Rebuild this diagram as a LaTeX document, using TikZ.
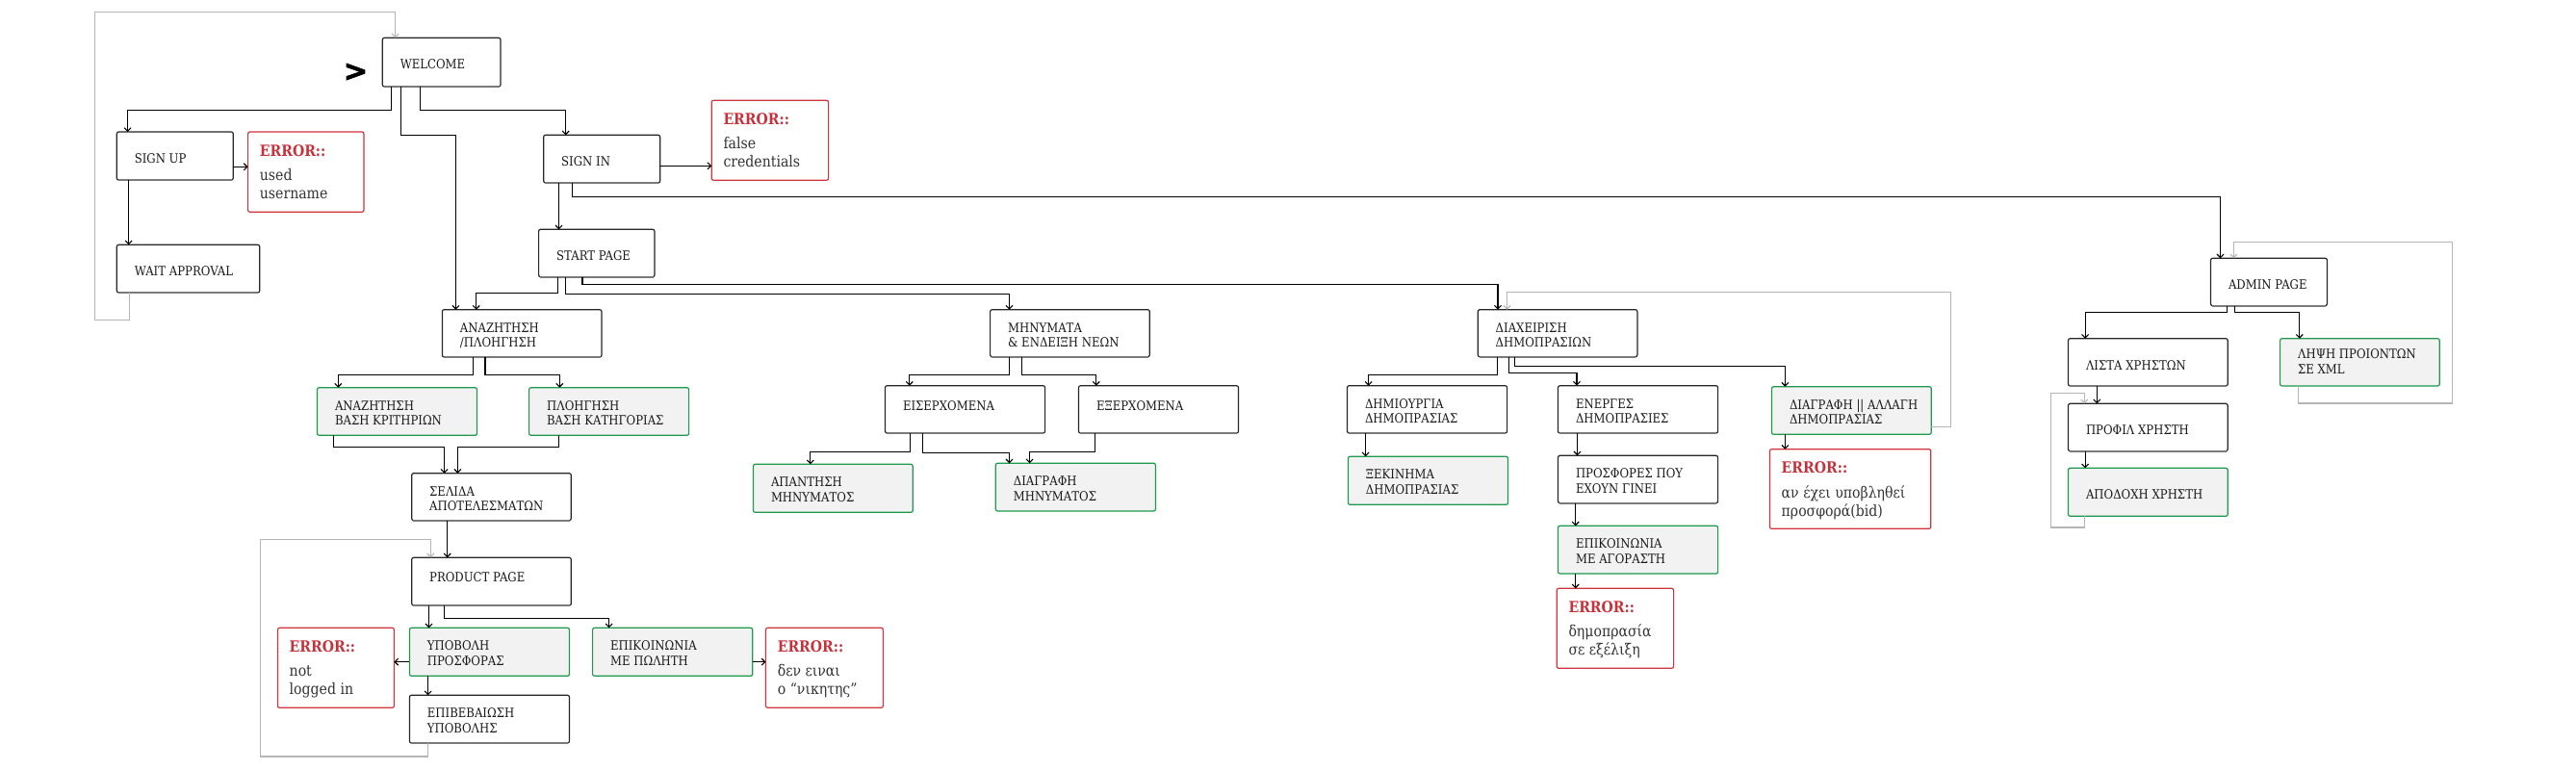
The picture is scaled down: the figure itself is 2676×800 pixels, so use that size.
\documentclass[tikz,border=0pt]{standalone}
\usepackage{fontspec}
\setmainfont{DejaVu Serif}[FakeStretch=0.88]
\setsansfont{DejaVu Sans}
\newfontfamily\chevfont{DejaVu Sans Bold}[FakeBold=2.5]
\usetikzlibrary{arrows.meta,calc}
\definecolor{bordk}{HTML}{262626}
\definecolor{botg}{HTML}{7A7A7A}
\definecolor{grn}{HTML}{1E9A4E}
\definecolor{grnfill}{HTML}{F2F2F2}
\definecolor{errred}{HTML}{D0343C}
\definecolor{errtxt}{HTML}{C8303A}
\definecolor{bodytxt}{HTML}{333333}
\definecolor{loopg}{HTML}{B5B5B5}
\tikzset{
 every node/.style={inner sep=0pt, outer sep=0pt},
 boxbase/.style={rectangle, rounded corners=2pt, line width=1.2pt},
 plainbox/.style={boxbase, draw=bordk, fill=white},
 greenbox/.style={boxbase, draw=grn, fill=grnfill},
 errbox/.style={boxbase, draw=errred, fill=white},
 btxt/.style={anchor=base west, font=\fontsize{13.3}{16}\selectfont, text=black!90},
 etitle/.style={anchor=base west, font=\bfseries\fontsize{16}{19}\selectfont, text=errtxt},
 ebody/.style={anchor=base west, font=\fontsize{16}{19}\selectfont, text=bodytxt},
 conn/.style={draw=black, line width=1.1pt, -{Straight Barb[length=3.5pt,width=7pt]}},
 loopc/.style={draw=loopg, line width=1.1pt, -{Straight Barb[length=3.5pt,width=7pt]}},
 botedge/.style={draw=botg, line width=2.4pt},
}
\newcommand\mkbx[6]{\node[#1, minimum width=#5pt, minimum height=#6pt, anchor=north west] (#2) at (#3,#4) {};}
\newcommand\onel[3]{\node[btxt] (#1-a) at ([shift={(18.5,#3)}]#1.north west) {#2};}
\newcommand\twol[3]{%
 \node[btxt] (#1-a) at ([shift={(18.5,23.5)}]#1.north west) {#2};
 \node[btxt] (#1-b) at ([shift={(18.5,39)}]#1.north west) {#3};}
\newcommand\errl[3]{%
 \node[etitle] (#1-h) at ([shift={(12.3,25)}]#1.north west) {ERROR::};
 \node[ebody] (#1-a) at ([shift={(12.3,50.3)}]#1.north west) {#2};
 \node[ebody] (#1-b) at ([shift={(12.3,69.6)}]#1.north west) {#3};}
\newcommand\vdn[3]{\path ([xshift=#2pt]#1.south west) coordinate (#1-#3-v); \draw[conn] (#1-#3-v) -- (#1-#3-v |- #3.north);}
\begin{document}
\begin{tikzpicture}[x=1pt,y=-1pt]
\fill[white] (0,0) rectangle (2676,800);
\useasboundingbox (0,0) rectangle (2676,800);
% plain boxes
\mkbx{plainbox}{welcome}{397.3}{39.3}{122.7}{50.7}
\mkbx{plainbox}{signup}{121.3}{137}{121}{50}
\mkbx{plainbox}{wait}{121.3}{254.3}{148.5}{49.7}
\mkbx{plainbox}{signin}{564.7}{140.3}{121}{49.7}
\mkbx{plainbox}{start}{559.6}{238.3}{120.4}{49.4}
\mkbx{plainbox}{anaz}{459.4}{321.7}{165.6}{49.3}
\mkbx{plainbox}{minym}{1028.6}{321.7}{165.7}{49}
\mkbx{plainbox}{diax}{1535.2}{321.7}{165.7}{49}
\mkbx{plainbox}{admin}{2296.5}{268.3}{120.9}{49.4}
\mkbx{plainbox}{selida}{427.7}{491.7}{165.6}{49}
\mkbx{plainbox}{product}{427.7}{579.3}{165.6}{49.7}
\mkbx{plainbox}{epivev}{425.4}{722.3}{166.1}{49.7}
\mkbx{plainbox}{eis}{919.5}{400.7}{166.1}{49.3}
\mkbx{plainbox}{eks}{1120.5}{400.7}{166}{49.3}
\mkbx{plainbox}{dimiourgia}{1399.5}{400.7}{166.1}{49.3}
\mkbx{plainbox}{energes}{1618.5}{400.7}{166.1}{49.3}
\mkbx{plainbox}{prosfores}{1618.5}{473.3}{166.1}{49.4}
\mkbx{plainbox}{lista}{2148.5}{351.7}{165.7}{49.3}
\mkbx{plainbox}{profil}{2148.5}{419.3}{165.7}{49.4}
\foreach \n in {welcome,signup,wait,signin,start,anaz,minym,diax,admin,selida,product,epivev,eis,eks,dimiourgia,energes,prosfores,lista,profil}
  \draw[botedge] ([xshift=1.5pt]\n.south west) -- ([xshift=-1.5pt]\n.south east);
% green boxes
\mkbx{greenbox}{kritiria}{329.5}{402.7}{166}{49.6}
\mkbx{greenbox}{katigoria}{549.6}{402.7}{166}{49.6}
\mkbx{greenbox}{ypovoli}{425.4}{652.3}{166.1}{50}
\mkbx{greenbox}{epikpol}{615.6}{652.3}{166.1}{50}
\mkbx{greenbox}{apantisi}{782.5}{482.3}{165.7}{50}
\mkbx{greenbox}{diagrmin}{1034.3}{481.3}{166.1}{49.7}
\mkbx{greenbox}{ksekinima}{1400.4}{474.3}{166.1}{50}
\mkbx{greenbox}{epikag}{1618.5}{546.3}{166.1}{49.7}
\mkbx{greenbox}{diagral}{1840.5}{401.7}{165.7}{49.6}
\mkbx{greenbox}{apodoxi}{2148.5}{486.3}{165.7}{50}
\mkbx{greenbox}{lipsi}{2368.6}{351.7}{165.6}{49.3}
% error boxes
\mkbx{errbox}{errA}{257.6}{137}{120.4}{83.3}
\mkbx{errbox}{errB}{739.2}{104.3}{121.4}{83}
\mkbx{errbox}{errC}{288.4}{652.3}{121}{83}
\mkbx{errbox}{errD}{795.5}{652.3}{121.9}{83}
\mkbx{errbox}{errE}{1617.2}{611.3}{121.4}{83}
\mkbx{errbox}{errF}{1838.4}{466.7}{167.4}{82.6}
% texts
\onel{welcome}{WELCOME}{32.5}
\onel{signup}{SIGN UP}{32.5}
\onel{wait}{WAIT APPROVAL}{32.5}
\onel{signin}{SIGN IN}{32.5}
\onel{start}{START PAGE}{32.5}
\twol{anaz}{ΑΝΑΖΗΤΗΣΗ}{/ΠΛΟΗΓΗΣΗ}
\twol{minym}{ΜΗΝΥΜΑΤΑ}{\& ΕΝΔΕΙΞΗ ΝΕΩΝ}
\twol{diax}{ΔΙΑΧΕΙΡΙΣΗ}{ΔΗΜΟΠΡΑΣΙΩΝ}
\onel{admin}{ADMIN PAGE}{32.5}
\twol{selida}{ΣΕΛΙΔΑ}{ΑΠΟΤΕΛΕΣΜΑΤΩΝ}
\onel{product}{PRODUCT PAGE}{25.5}
\twol{epivev}{ΕΠΙΒΕΒΑΙΩΣΗ}{ΥΠΟΒΟΛΗΣ}
\onel{eis}{ΕΙΣΕΡΧΟΜΕΝΑ}{25.5}
\onel{eks}{ΕΞΕΡΧΟΜΕΝΑ}{25.5}
\twol{dimiourgia}{ΔΗΜΙΟΥΡΓΙΑ}{ΔΗΜΟΠΡΑΣΙΑΣ}
\twol{energes}{ΕΝΕΡΓΕΣ}{ΔΗΜΟΠΡΑΣΙΕΣ}
\twol{prosfores}{ΠΡΟΣΦΟΡΕΣ ΠΟΥ}{ΕΧΟΥΝ ΓΙΝΕΙ}
\onel{lista}{ΛΙΣΤΑ ΧΡΗΣΤΩΝ}{32.5}
\onel{profil}{ΠΡΟΦΙΛ ΧΡΗΣΤΗ}{32.5}
\twol{kritiria}{ΑΝΑΖΗΤΗΣΗ}{ΒΑΣΗ ΚΡΙΤΗΡΙΩΝ}
\twol{katigoria}{ΠΛΟΗΓΗΣΗ}{ΒΑΣΗ ΚΑΤΗΓΟΡΙΑΣ}
\twol{ypovoli}{ΥΠΟΒΟΛΗ}{ΠΡΟΣΦΟΡΑΣ}
\twol{epikpol}{ΕΠΙΚΟΙΝΩΝΙΑ}{ΜΕ ΠΩΛΗΤΗ}
\twol{apantisi}{ΑΠΑΝΤΗΣΗ}{ΜΗΝΥΜΑΤΟΣ}
\twol{diagrmin}{ΔΙΑΓΡΑΦΗ}{ΜΗΝΥΜΑΤΟΣ}
\twol{ksekinima}{ΞΕΚΙΝΗΜΑ}{ΔΗΜΟΠΡΑΣΙΑΣ}
\twol{epikag}{ΕΠΙΚΟΙΝΩΝΙΑ}{ΜΕ ΑΓΟΡΑΣΤΗ}
\twol{diagral}{ΔΙΑΓΡΑΦΗ || ΑΛΛΑΓΗ}{ΔΗΜΟΠΡΑΣΙΑΣ}
\onel{apodoxi}{ΑΠΟΔΟΧΗ ΧΡΗΣΤΗ}{32.5}
\node[btxt] (lipsi-a) at ([shift={(18.5,21)}]lipsi.north west) {ΛΗΨΗ ΠΡΟΙΟΝΤΩΝ};
\node[btxt] (lipsi-b) at ([shift={(18.5,36.5)}]lipsi.north west) {ΣΕ XML};
\errl{errA}{used}{username}
\errl{errB}{false}{credentials}
\errl{errC}{not}{logged in}
\errl{errD}{δεν ειναι}{ο “νικητης”}
\errl{errE}{δημοπρασία}{σε εξέλιξη}
\errl{errF}{αν έχει υποβληθεί}{προσφορά(bid)}
% start marker
\node[font=\chevfont\fontsize{30}{30}\selectfont] (chev) at (369.5,75) {>};
% connectors
\draw[conn] ([xshift=9.2pt]welcome.south west) -- ++(0,24.3) -| ([xshift=11.3pt]signup.north west);
\draw[conn] ([xshift=19.4pt]welcome.south west) -- ++(0,50.3) -| ([xshift=14pt]anaz.north west);
\draw[conn] ([xshift=38.8pt]welcome.south west) -- ++(0,24.3) -| ([xshift=23pt]signin.north west);
\coordinate (p4) at ([yshift=-11.3pt]signup.east); \draw[conn] (p4) -- (p4 -| errA.west);
\coordinate (p6) at ([yshift=-7.2pt]signin.east); \draw[conn] (p6) -- (p6 -| errB.west);
\coordinate (p19) at ([yshift=-10.4pt]ypovoli.west); \draw[conn] (p19) -- (p19 -| errC.east);
\coordinate (p21) at ([yshift=-10.4pt]epikpol.east); \draw[conn] (p21) -- (p21 -| errD.west);
\vdn{signup}{12.3}{wait}
\vdn{signin}{15.8}{start}
\vdn{selida}{37}{product}
\vdn{product}{17.8}{ypovoli}
\vdn{ypovoli}{19.2}{epivev}
\vdn{dimiourgia}{19.1}{ksekinima}
\vdn{energes}{20}{prosfores}
\vdn{prosfores}{18.2}{epikag}
\vdn{epikag}{18.2}{errE}
\vdn{diagral}{13.9}{errF}
\vdn{lista}{29.8}{profil}
\vdn{profil}{17.6}{apodoxi}
\draw[conn] ([xshift=29.6pt]signin.south west) -- ++(0,14.5) -| ([xshift=10pt]admin.north west);
\draw[conn] ([xshift=19.9pt]start.south west) -- ++(0,16.8) -| ([xshift=35.4pt]anaz.north west);
\draw[conn] ([xshift=28.1pt]start.south west) -- ++(0,17.8) -| ([xshift=19.9pt]minym.north west);
\draw[conn] ([xshift=45.4pt]start.south west) -- ++(0,7.8) -| ([xshift=20.8pt]diax.north west);
\draw[conn] ([xshift=32.1pt]anaz.south west) -- ++(0,18.5) -| ([xshift=21.8pt]kritiria.north west);
\draw[conn] ([xshift=44.6pt]anaz.south west) -- ++(0,18.5) -| ([xshift=31.7pt]katigoria.north west);
\draw[conn] ([xshift=16.9pt]kritiria.south west) -- ++(0,12.2) -| ([xshift=33.9pt]selida.north west);
\draw[conn] ([xshift=30.8pt]katigoria.south west) -- ++(0,12.2) -| ([xshift=47.7pt]selida.north west);
\draw[conn] ([xshift=33.5pt]product.south west) -- ++(0,13.2) -| ([xshift=17pt]epikpol.north west);
\draw[conn] ([xshift=19.9pt]minym.south west) -- ++(0,18.8) -| ([xshift=25.3pt]eis.north west);
\draw[conn] ([xshift=32.9pt]minym.south west) -- ++(0,18.8) -| ([xshift=18.3pt]eks.north west);
\draw[conn] ([xshift=26.1pt]eis.south west) -- ++(0,19.5) -| ([xshift=59.3pt]apantisi.north west);
\draw[conn] ([xshift=39.1pt]eis.south west) -- ++(0,20.5) -| ([xshift=14.2pt]diagrmin.north west);
\draw[conn] ([xshift=17.2pt]eks.south west) -- ++(0,19.5) -| ([xshift=35.3pt]diagrmin.north west);
\draw[conn] ([xshift=20.4pt]diax.south west) -- ++(0,18.8) -| ([xshift=22.1pt]dimiourgia.north west);
\draw[conn] ([xshift=32.1pt]diax.south west) -- ++(0,16.8) -| ([xshift=19.5pt]energes.north west);
\draw[conn] ([xshift=38.2pt]diax.south west) -- ++(0,9.8) -| ([xshift=13.9pt]diagral.north west);
\draw[conn] ([xshift=16.9pt]admin.south west) -- ++(0,6.8) -| ([xshift=17.6pt]lista.north west);
\draw[conn] ([xshift=25pt]admin.south west) -- ++(0,6.8) -| ([xshift=20.2pt]lipsi.north west);
% gray return loops
\draw[loopc] ([xshift=13.3pt]wait.south west) -- ++(0,28.3) -| ++(-36.2,-320) -| ([xshift=13.3pt]welcome.north west);
\draw[loopc] ([xshift=19.2pt]epivev.south west) -- ++(0,14) -| ++(-174.1,-225.7) -| ([xshift=19.6pt]product.north west);
\draw[loopc] ([yshift=-16.8pt]diagral.east) -| ++(20.4,-140) -| ([xshift=30.4pt]diax.north west);
\draw[loopc] ([xshift=16.9pt]apodoxi.south west) -- ++(0,11.7) -| ++(-34.9,-139.3) -| ([xshift=16.9pt]profil.north west);
\draw[loopc] ([xshift=18.7pt]lipsi.south west) -- ++(0,18) -| ++(160.2,-167.7) -| ([xshift=23.9pt]admin.north west);
\end{tikzpicture}
\end{document}
